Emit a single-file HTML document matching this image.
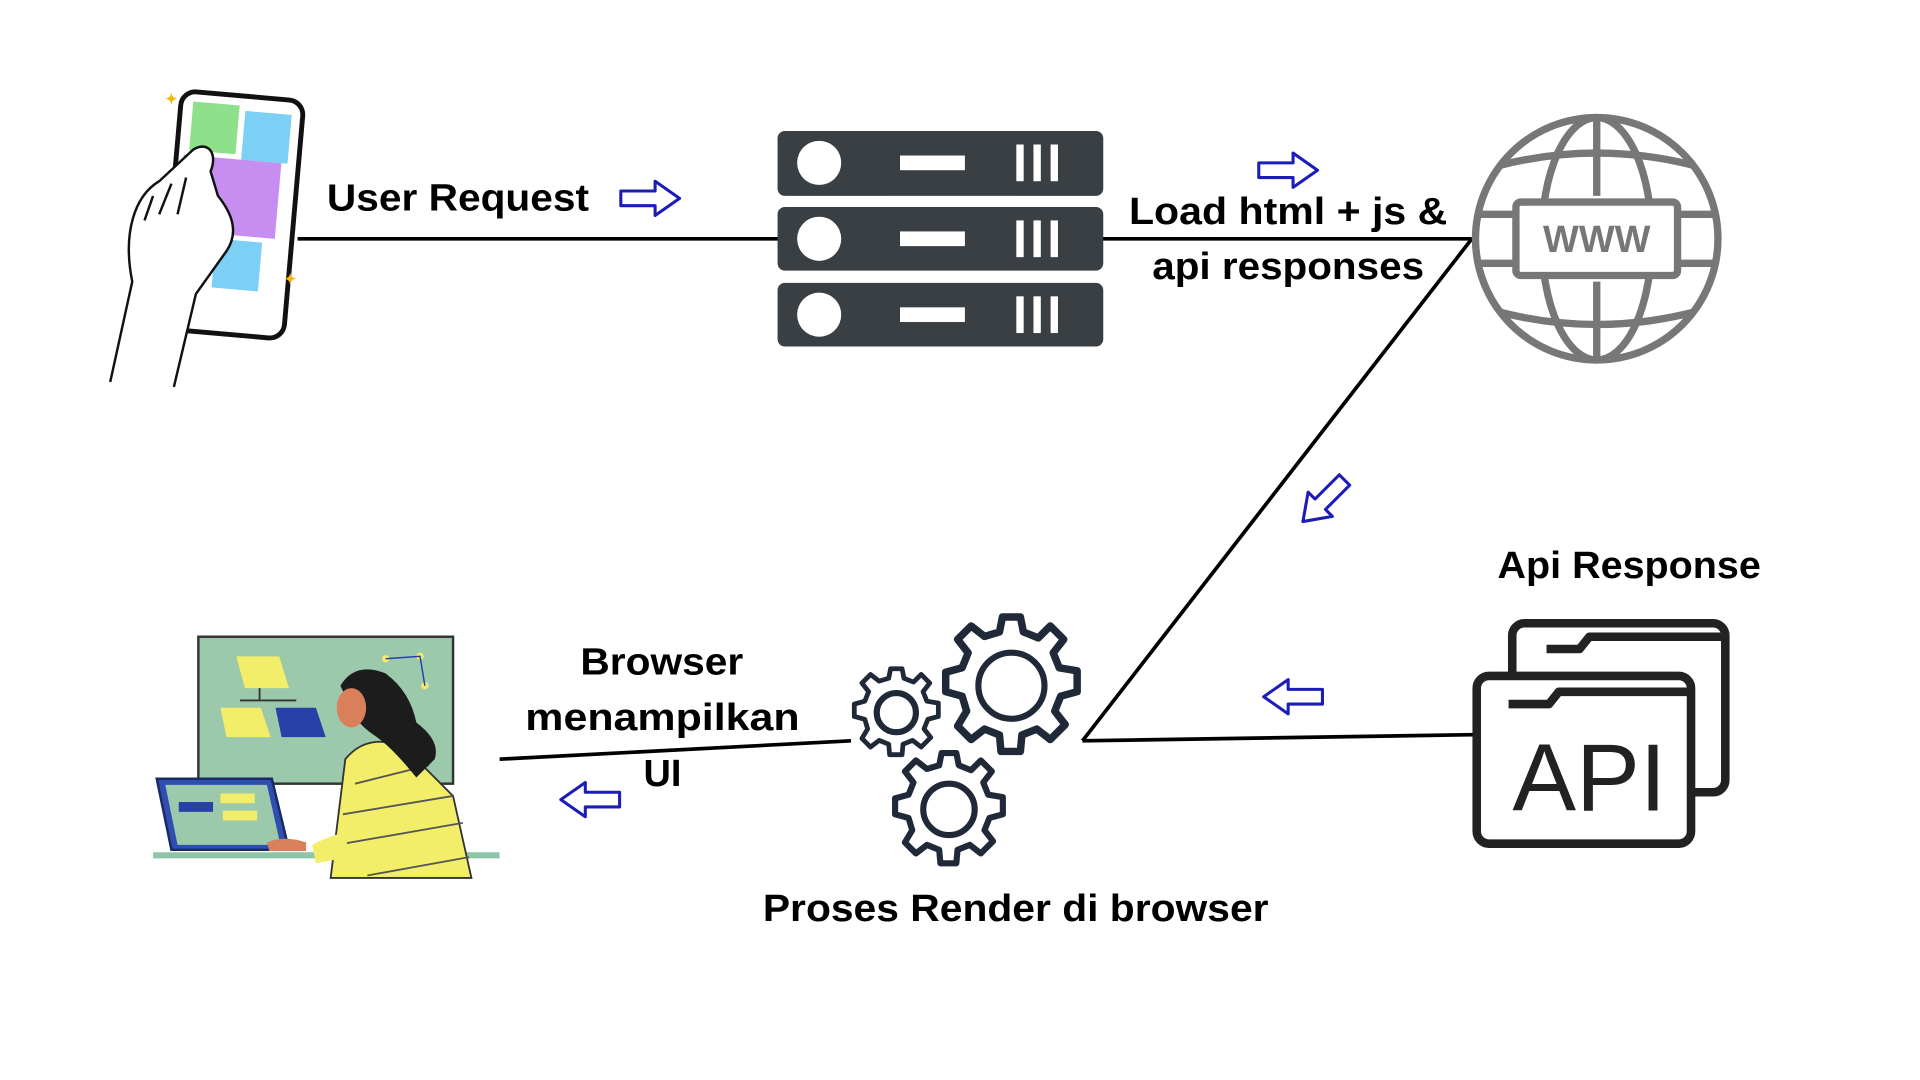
<!DOCTYPE html>
<html><head><meta charset="utf-8"><style>
html,body{margin:0;padding:0;background:#fff;width:1920px;height:1080px;overflow:hidden}
svg{display:block}
text{font-family:"Liberation Sans",sans-serif;font-weight:bold;fill:#000}
</style></head><body>
<svg width="1920" height="1080" viewBox="0 0 1568 882" preserveAspectRatio="none">
<defs>
<path id="arr" d="M0,-6 H28 V-14 L48,0 L28,14 V6 H0 Z" fill="#fff" stroke="#1c1cb8" stroke-width="2.5" stroke-linejoin="round"/>
<g id="gear">
<path d="M-6,-46 L6,-46 L8,-36 L18,-32 L26,-40 L35,-31 L28,-22 L32,-12 L44,-10 L44,4 L33,7 L29,17 L36,26 L26,36 L17,29 L7,33 L6,44 L-7,44 L-8,33 L-18,29 L-27,36 L-36,27 L-30,17 L-33,7 L-44,4 L-44,-9 L-33,-12 L-29,-22 L-36,-31 L-27,-40 L-18,-33 L-8,-36 Z" fill="none" stroke="#1f2937" stroke-width="5" stroke-linejoin="round"/>
</g>
</defs>
<g stroke="#000" stroke-width="3" fill="none">
<line x1="243" y1="195" x2="636" y2="195"/>
<line x1="900" y1="195" x2="1202" y2="195"/>
<line x1="1202" y1="195" x2="884" y2="605"/>
<line x1="884" y1="605" x2="1203" y2="600"/>
<line x1="695" y1="605" x2="408" y2="620"/>
</g>
<g>
<rect x="140" y="78" width="100" height="195" rx="12" transform="rotate(5 190 175)" fill="#fff" stroke="#111" stroke-width="4"/>
<rect x="150" y="86" width="38" height="40" fill="#8fe08a" transform="rotate(5 190 175)"/>
<rect x="193" y="90" width="38" height="40" fill="#7cd0f5" transform="rotate(5 190 175)"/>
<rect x="146" y="130" width="80" height="62" fill="#c58ef0" transform="rotate(5 190 175)"/>
<rect x="178" y="196" width="38" height="40" fill="#7cd0f5" transform="rotate(5 190 175)"/>
<path d="M90,312 L108,230 C100,190 110,160 130,148 L158,122 C170,115 178,125 172,140 L178,160 C190,175 195,190 185,205 L160,240 L142,316" fill="#fff" stroke="#111" stroke-width="2"/>
<path d="M125,160 L118,180 M140,150 L130,175 M152,145 L145,175" stroke="#111" stroke-width="2" fill="none"/>
<text x="135" y="85" style="font-size:12px;fill:#f5b800">✦</text>
<text x="232" y="232" style="font-size:12px;fill:#f5b800">✦</text>
</g>
<text x="267" y="172" textLength="214" lengthAdjust="spacingAndGlyphs" style="font-size:31px">User Request</text>
<use href="#arr" x="507" y="162"/>
<g fill="#3a3f44">
<rect x="635" y="107" width="266" height="53" rx="6"/>
<rect x="635" y="169" width="266" height="52" rx="6"/>
<rect x="635" y="231" width="266" height="52" rx="6"/>
</g>
<g fill="#fff">
<circle cx="669" cy="133" r="18"/><circle cx="669" cy="195" r="18"/><circle cx="669" cy="257" r="18"/>
<rect x="735" y="127" width="53" height="12"/><rect x="735" y="189" width="53" height="12"/><rect x="735" y="251" width="53" height="12"/>
<rect x="830" y="118" width="6" height="30"/><rect x="844" y="118" width="6" height="30"/><rect x="858" y="118" width="6" height="30"/>
<rect x="830" y="180" width="6" height="30"/><rect x="844" y="180" width="6" height="30"/><rect x="858" y="180" width="6" height="30"/>
<rect x="830" y="242" width="6" height="30"/><rect x="844" y="242" width="6" height="30"/><rect x="858" y="242" width="6" height="30"/>
</g>
<use href="#arr" x="1028" y="139"/>
<text x="922" y="183" textLength="260" lengthAdjust="spacingAndGlyphs" style="font-size:31px">Load html + js &amp;</text>
<text x="941" y="228" textLength="222" lengthAdjust="spacingAndGlyphs" style="font-size:31px">api responses</text>
<g fill="none" stroke="#777" stroke-width="6">
<circle cx="1304" cy="195" r="99"/>
<ellipse cx="1304" cy="195" rx="45" ry="99"/>
<line x1="1304" y1="96" x2="1304" y2="160"/><line x1="1304" y1="230" x2="1304" y2="294"/>
<path d="M1225,135 Q1304,115 1383,135 M1225,255 Q1304,275 1383,255"/>
<path d="M1206,175 H1236 M1372,175 H1402 M1206,215 H1236 M1372,215 H1402"/>
<rect x="1238" y="165" width="132" height="60" rx="4" fill="#fff"/>
</g>
<text x="1304" y="206" text-anchor="middle" style="font-size:31px;fill:#777">WWW</text>
<use href="#arr" transform="translate(1098 392) rotate(135)"/>
<text x="1223" y="472" textLength="215" lengthAdjust="spacingAndGlyphs" style="font-size:31px">Api Response</text>
<g fill="#fff" stroke="#222" stroke-width="7" stroke-linejoin="round">
<rect x="1235" y="509" width="174" height="138" rx="10"/>
<path d="M1263,530 H1290 L1298,520 H1409"/>
<rect x="1206" y="552" width="175" height="137" rx="10"/>
<path d="M1232,575 H1265 L1273,565 H1381" fill="none"/>
</g>
<text x="1298" y="662" text-anchor="middle" style="font-size:78px;font-weight:normal;fill:#222">API</text>
<use href="#arr" transform="translate(1080 569) rotate(180)"/>
<use href="#gear" transform="translate(826 560) scale(1.22)"/>
<circle cx="826" cy="560" r="27" fill="none" stroke="#1f2937" stroke-width="5"/>
<use href="#gear" transform="translate(732 582) scale(0.78)"/>
<circle cx="732" cy="582" r="16" fill="none" stroke="#1f2937" stroke-width="5"/>
<use href="#gear" transform="translate(775 661) scale(1)"/>
<circle cx="775" cy="661" r="21" fill="none" stroke="#1f2937" stroke-width="5"/>
<text x="623" y="752" textLength="413" lengthAdjust="spacingAndGlyphs" style="font-size:31px">Proses Render di browser</text>
<text x="474" y="551" textLength="133" lengthAdjust="spacingAndGlyphs" style="font-size:31px">Browser</text>
<text x="429" y="596" textLength="224" lengthAdjust="spacingAndGlyphs" style="font-size:31px">menampilkan</text>
<text x="541" y="642" text-anchor="middle" style="font-size:31px">UI</text>
<use href="#arr" transform="translate(506 653) rotate(180)"/>
<rect x="162" y="520" width="208" height="120" fill="#9cc9ab" stroke="#333" stroke-width="2"/>
<path d="M193,536 H228 L236,562 H200 Z" fill="#f3ee6a"/>
<path d="M180,578 H213 L221,602 H185 Z" fill="#f3ee6a"/>
<path d="M225,578 H258 L266,602 H230 Z" fill="#2640a8"/>
<path d="M212,562 V572 M196,572 H242" stroke="#333" stroke-width="1.5" fill="none"/>
<rect x="125" y="696" width="283" height="5" fill="#8fc4a8"/>
<path d="M128,636 H222 L236,694 H140 Z" fill="#2f4fb0" stroke="#1a2a66" stroke-width="2"/>
<path d="M135,641 H218 L229,690 H145 Z" fill="#9cc9ab"/>
<rect x="146" y="655" width="28" height="8" fill="#2640a8"/>
<rect x="180" y="648" width="28" height="8" fill="#f3ee6a"/>
<rect x="182" y="662" width="28" height="8" fill="#f3ee6a"/>
<path d="M270,717 L282,620 Q300,598 330,610 L370,650 L385,717 Z" fill="#f3ee6a" stroke="#333" stroke-width="1.5"/>
<path d="M290,640 L350,625 M280,665 L370,650 M275,690 L378,672 M300,715 L383,700" stroke="#555" stroke-width="1.5" fill="none"/>
<path d="M255,690 Q270,682 282,680 L285,700 L258,705 Z" fill="#f3ee6a"/>
<path d="M278,560 Q290,540 315,550 Q335,565 340,590 Q360,605 355,620 L340,635 Q320,610 305,600 Q290,590 285,575 Z" fill="#1c1c1c"/>
<ellipse cx="287" cy="578" rx="12" ry="16" fill="#d9805a"/>
<path d="M218,688 Q232,682 250,688 L250,695 L220,695 Z" fill="#d9805a"/>
<circle cx="315" cy="538" r="3" fill="#f3ee6a"/><circle cx="343" cy="536" r="3" fill="#f3ee6a"/><circle cx="347" cy="560" r="3" fill="#f3ee6a"/>
<path d="M315,538 L343,536 L347,560" stroke="#2640a8" stroke-width="1.2" fill="none"/>
</svg>
</body></html>
